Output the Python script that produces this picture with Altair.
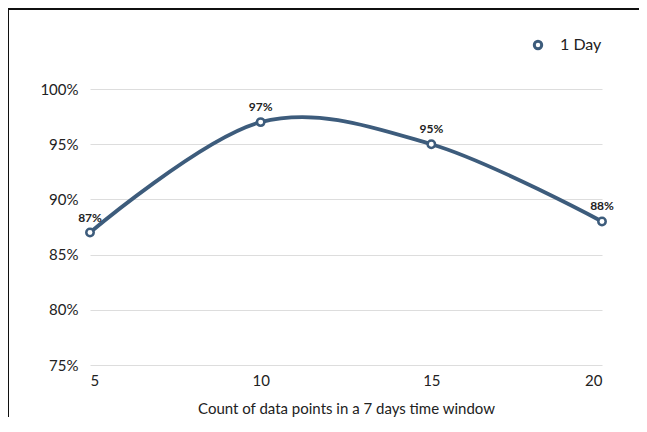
import altair as alt
import pandas as pd

counts = [5, 10, 15, 20]
accuracy = [0.87, 0.97, 0.95, 0.88]
labels = ["87%", "97%", "95%", "88%"]
series = ["1 Day"] * 4
y_ticks = [0.75, 0.80, 0.85, 0.90, 0.95, 1.00]
x_ticks = [5, 10, 15, 20]

df = pd.DataFrame({"count": counts, "acc": accuracy, "label": labels, "series": series})

COLOR = "#3d5c7c"
FONT = "Lato"

x = alt.X("count:Q", scale=alt.Scale(domain=[5, 20], nice=False),
          axis=alt.Axis(values=x_ticks, title="Count of data points in a 7 days time window",
                        grid=False, domain=False, ticks=False, labelPadding=8,
                        labelFontSize=15, titleFontSize=15, titleFontWeight="normal",
                        titlePadding=13, labelColor="#222", titleColor="#222", labelFont=FONT, titleFont=FONT))
y = alt.Y("acc:Q", scale=alt.Scale(domain=[0.75, 1.0], nice=False, zero=False),
          axis=alt.Axis(values=y_ticks, format=".0%", title=None, domain=False, ticks=False,
                        labelPadding=12, labelFontSize=15, labelColor="#222", labelFont=FONT,
                        gridColor="#dddddd", gridWidth=1))

stroke = alt.Stroke("series:N", scale=alt.Scale(range=[COLOR]),
                    legend=alt.Legend(title=None, orient="none", legendX=440, legendY=-52,
                                      symbolType="circle", symbolFillColor="white",
                                      symbolStrokeWidth=3, symbolSize=55, labelFontSize=16, labelFont=FONT,
                                      labelColor="#222", labelOffset=14, padding=0))

line = alt.Chart(df).mark_line(interpolate="cardinal", strokeWidth=3.8, color=COLOR).encode(x=x, y=y)
pts = alt.Chart(df).mark_point(filled=False, fill="white", fillOpacity=1, strokeWidth=2.5, size=55, opacity=1).encode(
    x=x, y=y, stroke=stroke)
txt = alt.Chart(df).mark_text(dy=-15, fontSize=12, fontWeight="bold", font=FONT, color="#222").encode(
    x=x, y=y, text="label:N")

frame_top = alt.Chart(df).mark_rule(color="#111", strokeWidth=1.5).encode(
    x=alt.value(-82), x2=alt.value(560), y=alt.value(-80))
frame_left = alt.Chart(df).mark_rule(color="#111", strokeWidth=1.5).encode(
    x=alt.value(-82), y=alt.value(-80), y2=alt.value(400))

chart = alt.layer(frame_top, frame_left, line, pts, txt).properties(
    width=512, height=276,
    autosize=alt.AutoSizeParams(type="none"),
    padding={"left": 82, "top": 81, "right": 37, "bottom": 52},
).configure_view(stroke=None)

chart.save("out.html", embed_options={"renderer": "svg", "actions": False})
